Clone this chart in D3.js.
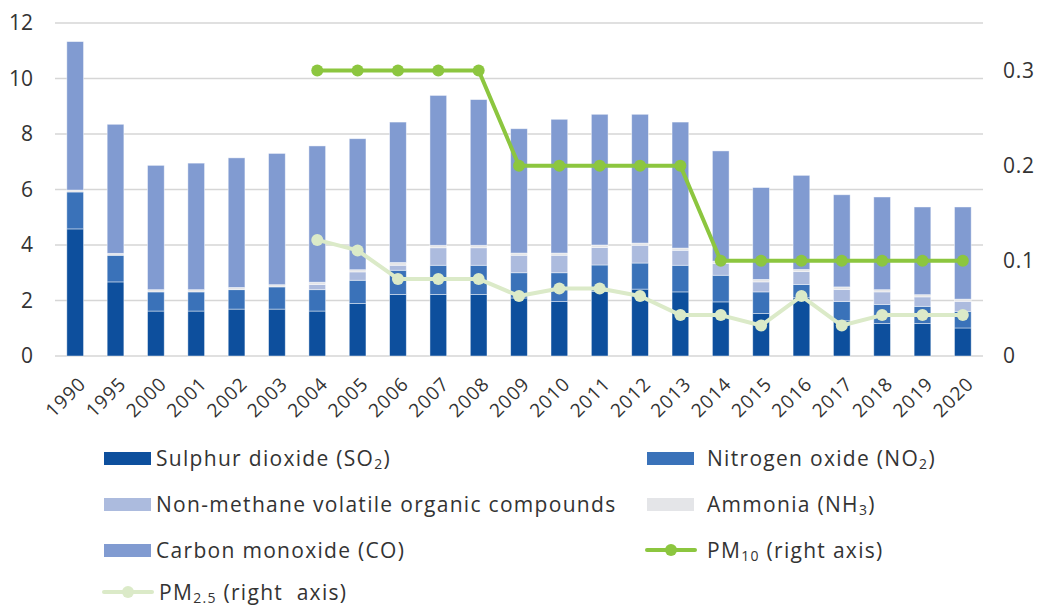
<!DOCTYPE html>
<html>
<head>
<meta charset="utf-8">
<script src="https://cdn.jsdelivr.net/npm/d3@7"></script>
<style>
  body { margin: 0; background: #fff; }
  svg text { font-family: "Open Sans", sans-serif; fill: #333; }
</style>
</head>
<body>
<svg id="chart" width="1038" height="606"></svg>
<script>
// Data
const years = ['1990','1995','2000','2001','2002','2003','2004','2005','2006','2007','2008','2009','2010','2011','2012','2013','2014','2015','2016','2017','2018','2019','2020'];
const so2   = [4.58, 2.67, 1.62, 1.62, 1.69, 1.69, 1.62, 1.89, 2.22, 2.22, 2.22, 2.09, 1.96, 2.32, 2.41, 2.31, 1.95, 1.53, 2.10, 1.27, 1.17, 1.17, 1.01];
const no2   = [1.33, 0.96, 0.69, 0.69, 0.70, 0.80, 0.77, 0.84, 0.87, 1.05, 1.05, 0.91, 1.04, 0.96, 0.94, 0.96, 0.96, 0.78, 0.48, 0.69, 0.69, 0.62, 0.60];
const nmvoc = [0, 0, 0, 0, 0, 0, 0.19, 0.30, 0.18, 0.63, 0.63, 0.63, 0.63, 0.63, 0.64, 0.54, 0.42, 0.36, 0.46, 0.44, 0.45, 0.34, 0.36];
const nh3   = [0.07, 0.07, 0.08, 0.08, 0.08, 0.08, 0.08, 0.08, 0.10, 0.09, 0.09, 0.08, 0.08, 0.09, 0.08, 0.08, 0.09, 0.09, 0.08, 0.09, 0.08, 0.08, 0.08];
const co    = [5.35, 4.65, 4.48, 4.56, 4.67, 4.73, 4.91, 4.72, 5.06, 5.40, 5.25, 4.48, 4.82, 4.71, 4.64, 4.54, 3.97, 3.31, 3.39, 3.32, 3.34, 3.16, 3.32];
const pm10Years = ['2004','2005','2006','2007','2008','2009','2010','2011','2012','2013','2014','2015','2016','2017','2018','2019','2020'];
const pm10  = [0.3, 0.3, 0.3, 0.3, 0.3, 0.2, 0.2, 0.2, 0.2, 0.2, 0.1, 0.1, 0.1, 0.1, 0.1, 0.1, 0.1];
const pm25  = [0.122, 0.111, 0.081, 0.081, 0.081, 0.063, 0.071, 0.071, 0.063, 0.043, 0.043, 0.032, 0.063, 0.032, 0.043, 0.043, 0.043];
const leftTicks = [0, 2, 4, 6, 8, 10, 12];
const rightTicks = [0, 0.1, 0.2, 0.3];

const svg = d3.select('#chart');
const plotLeft = 55, plotRight = 983, plotTop = 23, plotBottom = 356;

const x = d3.scaleBand().domain(years).range([plotLeft, plotRight]).paddingInner(0.586).paddingOuter(0.293);
const y = d3.scaleLinear().domain([0, 12]).range([plotBottom, plotTop]);
const y2 = d3.scaleLinear().domain([0, 0.35]).range([plotBottom, plotTop]);

// Gridlines
svg.append('g')
  .selectAll('line')
  .data(leftTicks)
  .join('line')
  .attr('x1', plotLeft).attr('x2', plotRight)
  .attr('y1', d => y(d)).attr('y2', d => y(d))
  .attr('stroke', '#d6d6d6')
  .attr('stroke-width', 1.6);

// Left axis
const yAxis = svg.append('g')
  .attr('transform', `translate(${plotLeft - 22},0)`)
  .call(d3.axisLeft(y).tickValues(leftTicks).tickSize(0).tickPadding(0));
yAxis.select('.domain').remove();
yAxis.selectAll('text').attr('font-size', 21).style('font-family', '"Open Sans", sans-serif').attr('fill', '#333');

// Right axis
const y2Axis = svg.append('g')
  .attr('transform', `translate(${plotRight + 20},0)`)
  .call(d3.axisRight(y2).tickValues(rightTicks).tickSize(0).tickPadding(0).tickFormat(d => d === 0 ? '0' : d3.format('.1f')(d)));
y2Axis.select('.domain').remove();
y2Axis.selectAll('text').attr('font-size', 21).attr('letter-spacing', 0.8).style('font-family', '"Open Sans", sans-serif').attr('fill', '#333');

// Bottom axis labels
const xAxis = svg.append('g')
  .attr('transform', `translate(0,${plotBottom})`)
  .call(d3.axisBottom(x).tickSize(0).tickPadding(0));
xAxis.select('.domain').remove();
xAxis.selectAll('text')
  .attr('font-size', 19)
  .attr('letter-spacing', 1)
  .style('font-family', '"Open Sans", sans-serif')
  .attr('fill', '#333')
  .attr('text-anchor', 'end')
  .attr('dy', 0)
  .attr('transform', 'translate(12,29) rotate(-45)');

// Stacked bars
const keys = ['so2', 'no2', 'nmvoc', 'nh3', 'co'];
const colors = { so2: '#0d4f9d', no2: '#3a72b9', nmvoc: '#acbbde', nh3: '#e4e5e8', co: '#819bd1' };
const table = years.map((yr, i) => ({ year: yr, so2: so2[i], no2: no2[i], nmvoc: nmvoc[i], nh3: nh3[i], co: co[i] }));
const stacked = d3.stack().keys(keys)(table);

svg.append('g')
  .selectAll('g')
  .data(stacked)
  .join('g')
  .attr('fill', d => colors[d.key])
  .selectAll('rect')
  .data(d => d)
  .join('rect')
  .attr('x', d => x(d.data.year))
  .attr('width', x.bandwidth())
  .attr('y', d => y(d[1]))
  .attr('height', d => Math.max(0, y(d[0]) - y(d[1])))
  .attr('stroke', 'rgba(255,255,255,0.55)')
  .attr('stroke-width', 0.8);

// Lines
const cx = yr => x(yr) + x.bandwidth() / 2;
function drawLine(vals, color) {
  const pts = pm10Years.map((yr, i) => [cx(yr), y2(vals[i])]);
  svg.append('path')
    .attr('d', d3.line()(pts))
    .attr('fill', 'none')
    .attr('stroke', color)
    .attr('stroke-width', 4)
    .attr('stroke-linejoin', 'round');
  svg.append('g')
    .selectAll('circle')
    .data(pts)
    .join('circle')
    .attr('cx', d => d[0]).attr('cy', d => d[1])
    .attr('r', 6)
    .attr('fill', color);
}
drawLine(pm25, '#dbeac8');
drawLine(pm10, '#8cc63f');

// Legend
const legendItems = [
  { type: 'rect', color: colors.so2, x: 104, tx: 156, y: 458, parts: [['Sulphur dioxide (SO'], ['2', 'sub'], [')']] },
  { type: 'rect', color: colors.no2, x: 647, tx: 707, y: 458, parts: [['Nitrogen oxide (NO'], ['2', 'sub'], [')']] },
  { type: 'rect', color: colors.nmvoc, x: 104, tx: 156, y: 504, parts: [['Non-methane volatile organic compounds']] },
  { type: 'rect', color: colors.nh3, x: 647, tx: 707, y: 504, parts: [['Ammonia (NH'], ['3', 'sub'], [')']] },
  { type: 'rect', color: colors.co, x: 104, tx: 156, y: 550, parts: [['Carbon monoxide (CO)']] },
  { type: 'line', color: '#8cc63f', x: 647, tx: 707, y: 550, parts: [['PM'], ['10', 'sub'], [' (right axis)']] },
  { type: 'line', color: '#dbeac8', x: 104, tx: 159, y: 592, parts: [['PM'], ['2.5', 'sub'], [' (right  axis)']] }
];

const legend = svg.append('g');
legendItems.forEach(item => {
  const g = legend.append('g');
  if (item.type === 'rect') {
    g.append('rect')
      .attr('x', item.x).attr('y', item.y - 6)
      .attr('width', 47).attr('height', 13)
      .attr('fill', item.color);
  } else {
    g.append('line')
      .attr('x1', item.x).attr('x2', item.x + 48)
      .attr('y1', item.y).attr('y2', item.y)
      .attr('stroke', item.color).attr('stroke-width', 4).attr('stroke-linecap', 'round');
    g.append('circle')
      .attr('cx', item.x + 24).attr('cy', item.y).attr('r', 6)
      .attr('fill', item.color);
  }
  const t = g.append('text')
    .attr('x', item.tx)
    .attr('y', item.y + 8)
    .attr('font-size', 21)
    .attr('letter-spacing', 1.3)
    .style('white-space', 'pre');
  item.parts.forEach(p => {
    const span = t.append('tspan').text(p[0]);
    if (p[1] === 'sub') span.attr('font-size', 14).attr('dy', 3);
    else if (t.selectAll('tspan').size() > 1) span.attr('dy', -3);
  });
});
</script>
</body>
</html>
